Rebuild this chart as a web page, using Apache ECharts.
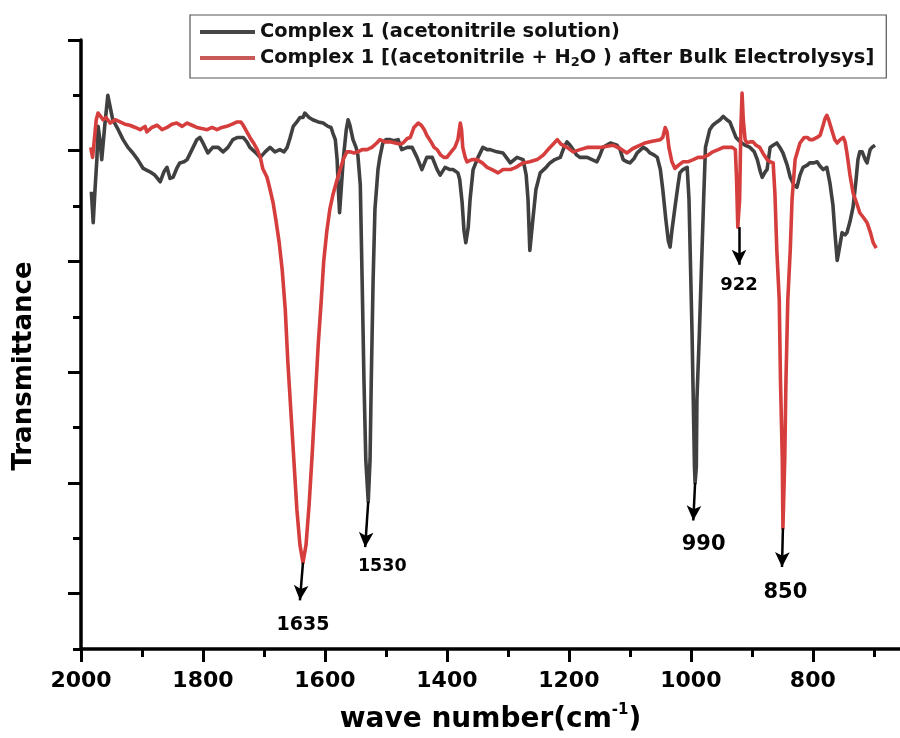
<!DOCTYPE html>
<html>
<head>
<meta charset="utf-8">
<script src="https://cdn.jsdelivr.net/npm/echarts@6/dist/echarts.min.js"></script>
<style>
  html, body { margin: 0; padding: 0; background: #ffffff; }
  #chart { width: 900px; height: 738px; }
</style>
</head>
<body>
<div id="chart"></div>
<script>
// ---- data ----
const seriesNames = [
  'Complex 1 (acetonitrile solution)',
  'Complex 1 [(acetonitrile + H2O ) after Bulk Electrolysys]'
];

// Complex 1 (acetonitrile solution): wave number (cm-1), transmittance (arb. units)
const blackWn = [1983,1980,1977,1974,1972,1969,1966,1961,1956,1948,1939,1931,1923,1915,1907,1898,1887,1879,1870,1864,1859,1854,1849,1843,1838,1831,1826,1818,1810,1805,1800,1792,1784,1775,1767,1759,1751,1743,1734,1728,1723,1715,1706,1698,1690,1682,1674,1667,1662,1657,1652,1646,1641,1636,1633,1626,1620,1611,1603,1595,1590,1587,1583,1580,1578,1576,1574,1570,1565,1562,1559,1554,1549,1546,1542,1539,1536,1533,1529,1526,1524,1521,1518,1513,1510,1505,1500,1493,1487,1480,1474,1465,1457,1449,1441,1433,1424,1416,1411,1403,1395,1390,1382,1379,1375,1372,1369,1365,1362,1357,1349,1341,1334,1329,1318,1308,1296,1285,1275,1270,1267,1264,1259,1254,1247,1239,1231,1223,1214,1208,1203,1198,1193,1187,1182,1170,1162,1154,1149,1144,1132,1121,1116,1111,1105,1100,1093,1088,1078,1072,1067,1060,1055,1050,1046,1041,1037,1034,1031,1026,1021,1018,1013,1006,1003,998,996,994,993,991,990,986,979,976,969,964,957,952,947,941,936,931,926,919,911,903,896,891,886,883,878,875,870,865,859,854,849,842,837,831,826,821,816,809,805,798,793,788,783,777,772,767,764,760,757,752,747,744,739,734,729,726,723,719,714,711,706,703,698];
const blackT = [41.3,38.5,41.5,44.2,47.2,46.0,44.2,47.3,50.0,47.8,46.9,46.0,45.3,44.8,44.2,43.4,43.1,42.8,42.2,43.1,43.5,42.5,42.6,43.4,43.9,44.0,44.2,45.1,46.0,46.2,45.7,44.8,45.3,45.3,44.9,45.3,46.0,46.2,46.2,45.8,45.3,44.9,44.4,44.9,45.3,44.9,45.1,44.9,45.3,46.2,47.2,47.6,48.0,48.0,48.4,48.0,47.8,47.6,47.5,47.2,47.1,46.6,46.0,44.2,41.5,39.4,41.0,44.2,46.9,47.8,47.3,46.0,45.3,44.6,41.9,33.3,24.3,17.1,13.3,17.1,24.3,33.3,39.7,43.3,44.4,45.7,46.0,46.0,45.9,46.0,45.1,45.3,45.3,44.4,43.3,44.4,44.4,43.3,42.8,43.5,43.3,43.3,43.0,42.4,40.3,37.8,36.7,38.1,40.6,43.3,44.4,45.3,45.1,45.1,44.9,44.8,43.9,44.4,44.2,42.8,40.6,36.0,38.8,41.5,43.0,43.4,43.9,44.2,44.4,45.3,45.8,45.5,45.1,44.6,44.4,44.4,44.2,44.0,44.6,45.3,45.7,45.5,45.1,44.2,44.0,43.9,44.3,44.8,45.3,45.1,44.8,44.6,44.4,43.3,41.5,38.8,36.9,36.3,37.8,39.9,41.9,43.0,43.3,43.5,40.6,28.5,22.5,16.4,15.0,16.4,22.5,28.5,40.6,45.3,46.9,47.3,47.6,47.8,48.1,47.8,47.6,46.9,46.2,45.8,45.5,45.3,44.9,44.2,43.1,42.6,43.1,43.3,45.3,45.5,45.7,45.3,44.8,43.7,42.6,41.9,41.7,42.8,43.5,43.7,43.9,43.9,44.0,43.6,43.3,43.5,42.1,40.1,37.8,35.1,36.0,37.6,37.4,37.6,38.6,39.9,42.4,44.2,44.9,44.9,44.2,43.9,45.1,45.3,45.5];

// Complex 1 after bulk electrolysis
const redWn = [1984,1981,1979,1975,1972,1969,1964,1959,1952,1944,1936,1928,1920,1911,1903,1895,1892,1884,1875,1867,1859,1851,1843,1834,1826,1818,1810,1802,1793,1785,1777,1769,1761,1752,1744,1738,1734,1728,1723,1716,1711,1706,1702,1695,1690,1685,1680,1675,1670,1665,1661,1656,1651,1646,1641,1636,1631,1626,1621,1616,1611,1606,1602,1597,1592,1587,1580,1575,1570,1564,1559,1552,1546,1539,1531,1523,1515,1510,1502,1493,1485,1477,1472,1465,1460,1454,1447,1442,1437,1433,1426,1421,1416,1410,1405,1400,1393,1387,1382,1378,1376,1374,1370,1367,1359,1351,1342,1334,1326,1316,1308,1296,1287,1275,1264,1252,1242,1231,1224,1219,1213,1203,1193,1182,1170,1160,1149,1137,1128,1116,1105,1095,1083,1075,1067,1059,1050,1046,1042,1039,1036,1031,1026,1020,1013,1005,996,988,980,972,964,955,947,939,932,927,925,923,920,918,916,914,911,908,903,898,893,887,882,875,870,865,862,859,855,853,850,849,846,844,841,837,834,829,821,814,809,805,800,793,788,783,780,777,774,769,764,760,755,750,747,744,739,734,727,723,716,711,706,701,696];
const redT = [45.3,44.4,45.5,47.8,48.4,48.2,47.8,48.0,47.5,47.8,47.6,47.4,47.3,47.1,46.9,47.2,46.7,47.1,47.3,46.9,47.1,47.4,47.5,47.2,47.5,47.3,47.1,47.0,46.9,47.1,46.9,47.1,47.2,47.4,47.6,47.6,47.3,46.7,46.2,45.6,45.1,44.4,43.4,42.6,41.5,40.3,38.6,36.7,34.2,30.6,26.1,21.6,17.1,12.6,9.4,7.8,9.4,13.0,17.5,22.5,27.5,31.5,35.0,37.7,39.7,41.0,42.4,43.3,44.2,44.9,44.9,44.8,44.9,45.1,45.1,45.3,45.7,46.0,45.8,45.8,45.7,45.6,45.7,46.1,46.2,47.1,47.5,47.3,46.9,46.4,45.8,45.3,45.1,44.6,44.4,44.4,44.9,45.3,46.0,47.5,46.9,45.3,44.4,44.0,44.2,44.2,43.9,43.5,43.3,43.0,43.3,43.3,43.5,43.9,44.0,44.2,44.6,45.3,45.7,46.0,45.6,45.3,44.9,45.1,45.3,45.3,45.3,45.4,45.5,45.2,44.8,45.2,45.5,45.7,45.8,45.9,46.0,46.2,47.1,46.7,45.3,44.0,43.4,43.7,44.0,44.0,44.2,44.4,44.4,44.6,44.9,45.1,45.3,45.3,45.3,45.1,42.4,38.1,40.6,46.9,50.2,47.8,46.0,45.7,45.8,45.8,45.5,45.3,44.8,44.2,44.0,43.9,41.0,36.0,31.5,24.3,17.1,10.9,17.1,24.3,31.5,36.0,40.6,44.2,45.7,46.2,46.2,46.0,46.0,46.2,46.4,47.3,47.9,48.2,47.8,46.9,46.0,45.7,46.0,46.2,45.8,44.8,42.8,41.2,40.1,39.4,38.9,38.5,37.7,36.7,36.2];

// axis ticks
const xMajorTicks = [2000, 1800, 1600, 1400, 1200, 1000, 800];
const xMinorTicks = [1900, 1700, 1500, 1300, 1100, 900, 700];
const yMajorTicks = [5, 15, 25, 35, 45, 55];
const yMinorTicks = [0, 10, 20, 30, 40, 50];

// peak annotations: label, arrow start (peak), arrow end (tip), label centre
const peakLabels   = ['1635', '1530', '990', '922', '850'];
const peakSeries   = [1, 0, 0, 1, 1];
const arrowFromWn  = [1636, 1529, 993, 921, 849];
const arrowFromT   = [7.8, 13.3, 15.0, 38.1, 10.9];
const arrowToWn    = [1641, 1534, 996, 921, 850.5];
const arrowToT     = [4.4, 9.2, 11.6, 34.7, 7.4];
const labelWn      = [1636, 1506, 979, 921, 845];
const labelT       = [2.2, 7.5, 9.4, 32.8, 5.1];
const labelSizes   = [19, 17.5, 21, 18, 21];

// ---- chart ----
const FONT = 'DejaVu Sans';
const chart = echarts.init(document.getElementById('chart'), null, { renderer: 'canvas' });

const zip = (a, b) => a.map((v, i) => [v, b[i]]);

function marks(seriesIdx) {
  const lines = [], points = [];
  peakLabels.forEach((lab, i) => {
    if (peakSeries[i] !== seriesIdx) return;
    lines.push([{ coord: [arrowFromWn[i], arrowFromT[i]] }, { coord: [arrowToWn[i], arrowToT[i]] }]);
    points.push({
      name: lab, coord: [labelWn[i], labelT[i]],
      label: { fontSize: labelSizes[i] }
    });
  });
  return {
    markLine: {
      silent: true, animation: false,
      symbol: ['none', 'arrow'], symbolSize: [11, 15],
      lineStyle: { color: '#000', width: 2.5, type: 'solid' },
      label: { show: false },
      emphasis: { disabled: true },
      data: lines
    },
    markPoint: {
      silent: true, animation: false,
      symbol: 'rect', symbolSize: 1,
      itemStyle: { color: 'rgba(0,0,0,0)' },
      label: {
        show: true, position: 'inside', formatter: '{b}',
        color: '#000', fontFamily: FONT, fontWeight: 'bold'
      },
      data: points
    }
  };
}

const xCommon = {
  type: 'value', inverse: true, min: 657, max: 2000,
  splitLine: { show: false }
};
const yCommon = {
  type: 'value', min: 0, max: 55,
  splitLine: { show: false }
};

chart.setOption({
  animation: false,
  backgroundColor: '#ffffff',
  grid: { left: 81, right: 0, top: 40, bottom: 89, containLabel: false, outerBoundsMode: 'none' },
  legend: {
    orient: 'vertical', left: 190, top: 15,
    padding: [6, 12, 9, 10], itemGap: 4,
    itemWidth: 55, itemHeight: 4, icon: 'rect',
    borderColor: '#555', borderWidth: 1.2,
    selectedMode: false,
    formatter: name => name.replace('H2O', 'H{sub|2}O'),
    textStyle: {
      fontFamily: FONT, fontWeight: 'bold', fontSize: 19.4, lineHeight: 22, color: '#111',
      rich: {
        sub: { fontFamily: FONT, fontWeight: 'bold', fontSize: 13, verticalAlign: 'bottom', color: '#111' }
      }
    },
    data: seriesNames
  },
  xAxis: [
    Object.assign({}, xCommon, {
      position: 'bottom',
      name: 'wave number(cm{sup|-1})',
      nameLocation: 'middle', nameGap: 54,
      nameTextStyle: {
        fontFamily: FONT, fontWeight: 'bold', fontSize: 28, lineHeight: 34, color: '#000',
        rich: { sup: { fontFamily: FONT, fontWeight: 'bold', fontSize: 15, verticalAlign: 'top', color: '#000' } }
      },
      axisLine: { show: true, onZero: false, lineStyle: { color: '#000', width: 3.5 } },
      axisTick: { show: true, customValues: xMajorTicks, length: 13, lineStyle: { color: '#000', width: 3 } },
      axisLabel: { show: true, customValues: xMajorTicks, margin: 21, color: '#000',
        formatter: v => String(v),
        fontFamily: FONT, fontWeight: 'bold', fontSize: 22 }
    }),
    Object.assign({}, xCommon, {
      position: 'bottom',
      axisLine: { show: false },
      axisTick: { show: true, customValues: xMinorTicks, length: 8, lineStyle: { color: '#000', width: 3 } },
      axisLabel: { show: false }
    })
  ],
  yAxis: [
    Object.assign({}, yCommon, {
      position: 'left',
      name: 'Transmittance',
      nameLocation: 'middle', nameGap: 44,
      nameTextStyle: { fontFamily: FONT, fontWeight: 'bold', fontSize: 26, color: '#000', padding: [0, 43, 0, 0] },
      axisLine: { show: true, onZero: false, lineStyle: { color: '#000', width: 3.5 } },
      axisTick: { show: true, customValues: yMajorTicks, length: 13, lineStyle: { color: '#000', width: 3 } },
      axisLabel: { show: false }
    }),
    Object.assign({}, yCommon, {
      position: 'left',
      axisLine: { show: false },
      axisTick: { show: true, customValues: yMinorTicks, length: 8, lineStyle: { color: '#000', width: 3 } },
      axisLabel: { show: false }
    })
  ],
  series: [
    Object.assign({
      name: seriesNames[0], type: 'line', xAxisIndex: 0, yAxisIndex: 0,
      data: zip(blackWn, blackT), showSymbol: false, symbol: 'none',
      lineStyle: { color: '#404040', width: 3.6, join: 'round' },
      itemStyle: { color: '#474747' },
      z: 2
    }, marks(0)),
    Object.assign({
      name: seriesNames[1], type: 'line', xAxisIndex: 0, yAxisIndex: 0,
      data: zip(redWn, redT), showSymbol: false, symbol: 'none',
      lineStyle: { color: '#d63d3d', width: 3.6, join: 'round' },
      itemStyle: { color: '#c95a5a' },
      z: 3
    }, marks(1))
  ]
});
</script>
</body>
</html>
